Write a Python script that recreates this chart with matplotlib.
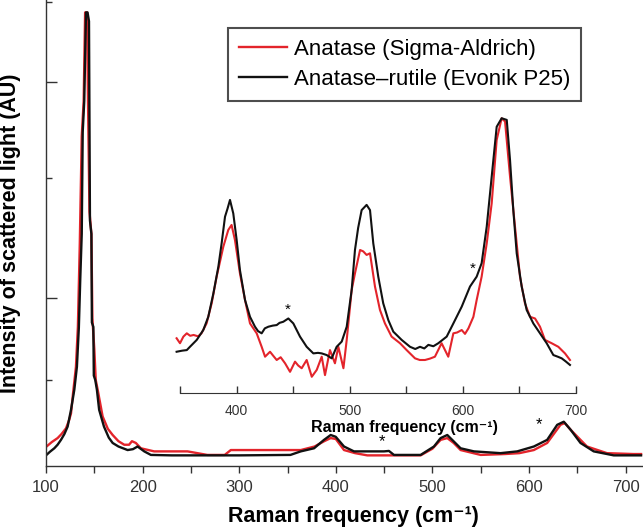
import matplotlib
matplotlib.use('Agg')
import matplotlib.pyplot as plt
from matplotlib.ticker import FixedLocator

plt.rcParams['font.family'] = ['Liberation Sans', 'DejaVu Sans']

# main spectrum, anatase (Sigma-Aldrich), arbitrary units
main_x_red = [100, 106, 112, 116, 120.7, 124, 125.9, 128, 131, 133, 135, 137, 139, 140.5,
              142.5, 143.5, 145, 147, 148, 150, 151.5, 153.5, 158.6, 164, 169, 175, 181, 186,
              189, 193, 198.2, 212, 230, 246.5, 267, 285, 291.3, 320, 356.8, 363.7, 378, 388,
              394.7, 400, 408.5, 420, 432.6, 460, 487.8, 500, 508.5, 515.4, 522, 529.2, 550,
              575, 590, 605, 618.8, 632.6, 637, 643, 660, 680.7, 708, 716]
main_y_red = [1.9, 3.0, 3.9, 4.8, 6.1, 8.0, 9.5, 14, 20, 29, 48, 72, 80, 100,
              100, 80, 55, 50, 31, 24, 17, 14.8, 8.8, 6.0, 4.6, 3.2, 2.4, 2.4,
              3.2, 2.8, 1.6, 0.9, 0.9, 0.9, 0.1, 0.1, 1.2, 1.2, 1.2, 1.2, 2.0, 3.2,
              3.9, 3.7, 1.2, 0.5, 0.0, 0.0, 0.0, 1.5, 3.5, 3.9, 2.8, 1.2, 0.1,
              0.3, 0.5, 1.2, 2.8, 6.9, 7.3, 5.8, 2.0, 0.5, 0.3, 0.3]

# main spectrum, anatase-rutile (Evonik P25)
main_x_blk = [100, 104, 108.6, 112, 115.5, 119, 122.4, 125.9, 129.3, 132, 134, 135.5, 137,
              138, 139.6, 141.4, 143, 144.5, 145.5, 147, 147.5, 149, 149.5, 151, 152.7, 155,
              160, 165, 169, 175, 184.5, 190, 194.8, 201.7, 208.6, 230, 267, 300, 353, 363.7,
              377.5, 387.8, 394.7, 399.9, 408.5, 418.8, 432.6, 449.9, 455, 460.2, 487.8,
              501.6, 508.5, 515.4, 522.3, 529.2, 543, 570.5, 587.8, 605, 618.8, 629.2, 636,
              643, 653.3, 667, 687.7, 716]
main_y_blk = [0.0, 0.8, 1.6, 2.4, 3.5, 4.8, 6.5, 10.3, 14.8, 20, 28.8, 40, 50,
              73, 80, 100, 100, 98, 53, 50, 30, 29, 18, 17, 14.8, 10.3,
              6.5, 4.0, 2.8, 2.0, 1.2, 1.4, 2.0, 0.9, 0.1, 0.0, 0.0, 0.0, 0.1, 0.9,
              1.6, 3.5, 4.6, 4.2, 2.0, 0.9, 0.9, 0.9, 1.0, 0.1, 0.1,
              2.0, 3.9, 4.6, 3.1, 1.6, 0.9, 0.5, 0.9, 2.0, 3.5, 6.9, 7.6,
              5.8, 2.8, 0.9, 0.0, 0.0]

# inset, 350-700 cm-1 region, rescaled
ins_x_red = [347, 350, 353, 356, 359, 362, 366, 369, 373.5, 378, 382.4, 385.5, 388.3, 392.7,
             395.6, 398.6, 403, 407.5, 411.9, 417.8, 422.2, 425.2, 429.6, 432.5, 435.5, 439,
             442.9, 447.3, 451.7, 454.5, 457.6, 462, 466.5, 470.9, 475.3, 478.2, 482.6, 487,
             490, 494.5, 497.4, 501.8, 504.7, 509.2, 512, 515, 518, 522.4, 526.8, 531.2,
             537.1, 544.5, 550.4, 557.8, 562, 566.6, 571, 575.4, 581.3, 587.2, 591.7, 595,
             599.1, 602, 605, 609.4, 612.3, 616.7, 621.2, 625.6, 630, 634.4, 637.4, 641.8,
             646.2, 650.6, 655, 659.5, 663.9, 668.3, 672.7, 678.6, 684.5, 690.4, 694.8]
ins_y_red = [19.9, 18.1, 20.5, 21.7, 20.8, 21.1, 20.6, 21.7, 25.3, 32.6, 42.3, 48, 53.2, 59.3,
             61.1, 55.6, 43.5, 33.8, 25.3, 21.7, 16.8, 13.2, 15.0, 13.5, 12.0, 13.0,
             10.8, 7.7, 11.4, 10.0, 9.0, 12.0, 5.9, 8.4, 13.2, 6.5, 15.6, 10.8,
             16.8, 9.0, 19.3, 37.5, 43.5, 52, 51.5, 50.2, 50.8, 38.7, 30.2, 25.3,
             20.5, 18.1, 15.6, 12.6, 12.0, 12.0, 12.5, 13.2, 18.1, 13.2, 21.7, 22.0,
             22.9, 21.5, 23.5, 27.7, 33.8, 42.3, 54.4, 69.0, 92.0, 99.9, 98.7, 78.7,
             60.5, 42.3, 32.6, 27.7, 27.1, 24.1, 19.3, 18.1, 16.8, 14.4, 12.0]

ins_x_blk = [347, 352, 356, 358.8, 364.8, 370.6, 375, 379.5, 383.9, 386.8, 389.8, 392, 394.2,
             397.1, 400.1, 403, 407.5, 411.9, 416.3, 419, 422.2, 425, 428.1, 432, 435.5, 438,
             441.3, 445.8, 450.2, 456.1, 462, 467.9, 472, 475.3, 479.7, 484.1, 488.5, 493,
             497.4, 501.8, 504.7, 507.5, 510.6, 515, 518, 520.9, 525.3, 529.7, 534.2, 538.6,
             546, 553.4, 558, 562.2, 566, 569.6, 574, 578.4, 585.8, 591.7, 599.1, 606.4,
             612.3, 616.7, 621.2, 625.6, 630, 634.4, 638.9, 641.8, 644.7, 647.7, 652.1,
             656.5, 662.4, 668.3, 674.2, 680.1, 684, 687.5, 691, 694.8]
ins_y_blk = [15.0, 15.4, 15.6, 16.8, 19.3, 22.9, 27.7, 36.2, 45.9, 54.4, 64.1, 67, 70.2,
             65.3, 55.6, 44.7, 33.8, 27.7, 24.1, 22.5, 21.7, 23.5, 24.1, 24.5, 24.7, 25.5,
             25.9, 27.1, 25.3, 20.5, 16.8, 14.4, 14.6, 14.4, 13.8, 12.6, 16.8, 18.7,
             24.1, 37.5, 52, 60, 66.5, 68.4, 66.5, 54.4, 42.3, 32.6, 26.5, 22.3,
             19.3, 16.8, 16.0, 16.8, 16.2, 17.5, 17.0, 18.1, 20.5, 25.3, 31.4, 38.7,
             42.3, 47.2, 60.5, 78.7, 96.8, 99.9, 99.3, 84.7, 66.5, 50.8, 38.7,
             30.2, 25.3, 21.7, 18.1, 13.8, 13.2, 12.6, 11.5, 10.2]

main_xticks = [100, 200, 300, 400, 500, 600, 700]
inset_xticks = [400, 500, 600, 700]
stars_main = [(448, 3.1), (610, 6.9)]
stars_inset = [(445, 30.2), (609, 45.0)]

RED = '#e3242b'
BLK = '#111111'

fig = plt.figure(figsize=(6.43, 5.29), dpi=100)
W, H = 643.0, 529.0

# main axes: spine at x=46px, axis line at y=466px
ax = fig.add_axes([46 / W, (H - 466) / H, (W - 46) / W, 466 / H])
ax.plot(main_x_red, main_y_red, color=RED, lw=1.7, label='Anatase (Sigma-Aldrich)')
ax.plot(main_x_blk, main_y_blk, color=BLK, lw=1.7, label='Anatase\u2013rutile (Evonik P25)')
ax.set_xlim(100, 718)
ax.set_ylim(-2.4, 102.8)
for s in ['top', 'right']:
    ax.spines[s].set_visible(False)
for s in ['left', 'bottom']:
    ax.spines[s].set_linewidth(1.0)
    ax.spines[s].set_color('#333333')
ax.set_xticks(main_xticks)
ax.xaxis.set_minor_locator(FixedLocator([150, 250, 350, 450, 550, 650]))
ax.tick_params(axis='x', which='both', direction='out', length=5, width=1, color='#333333',
               labelsize=12, labelcolor='#333333', pad=5)
ax.set_yticks([84.2, 35.6])
ax.yaxis.set_minor_locator(FixedLocator([102.4, 62.6, 17.0]))
ax.tick_params(axis='y', which='major', direction='in', length=8, width=1, color='#333333',
               labelleft=False)
ax.tick_params(axis='y', which='minor', direction='in', length=4, width=1, color='#333333')
ax.set_xlabel('Raman frequency (cm\u207b\u00b9)', fontsize=15.5, fontweight='bold')
ax.xaxis.set_label_coords((353 - 46) / (W - 46), -40 / 466.0)
ax.set_ylabel('Intensity of scattered light (AU)', fontsize=15.5, fontweight='bold')
ax.yaxis.set_label_coords(-25 / (W - 46), 0.5)
for sx, sy in stars_main:
    ax.text(sx, sy, '*', fontsize=12, ha='center', va='center')

leg = ax.legend(loc='upper left', bbox_to_anchor=((228 - 46) / (W - 46), 1 - 28 / 466.0),
                fontsize=16, frameon=True, fancybox=False, edgecolor='#222222',
                handlelength=2.15, handletextpad=0.32, borderpad=0.5, labelspacing=0.4,
                borderaxespad=0)
leg.get_frame().set_linewidth(1.5)

# inset axes: 345..702 cm-1, 1.131 px per cm-1, axis line at y=393px
px = 1.131
x0 = 180 - 5 * px
iax = fig.add_axes([x0 / W, (H - 393) / H, 357 * px / W, 283 / H])
iax.patch.set_alpha(0)
iax.plot(ins_x_red, ins_y_red, color=RED, lw=1.5)
iax.plot(ins_x_blk, ins_y_blk, color=BLK, lw=1.5)
iax.set_xlim(345, 702)
iax.set_ylim(0, 102.9)
for s in ['top', 'right', 'left']:
    iax.spines[s].set_visible(False)
iax.spines['bottom'].set_bounds(350, 700)
iax.spines['bottom'].set_color('#333333')
iax.set_xticks(inset_xticks)
iax.xaxis.set_minor_locator(FixedLocator([350, 450, 550, 650]))
iax.tick_params(axis='x', which='both', direction='in', length=5, width=1, color='#333333',
                labelsize=10, labelcolor='#333333', pad=8)
iax.set_yticks([])
iax.set_xlabel('Raman frequency (cm\u207b\u00b9)', fontsize=11.5, fontweight='bold')
iax.xaxis.set_label_coords((404 - x0) / (357 * px), -27 / 283.0)
for sx, sy in stars_inset:
    iax.text(sx, sy, '*', fontsize=11, ha='center', va='center')

fig.savefig('out.png', dpi=100)
